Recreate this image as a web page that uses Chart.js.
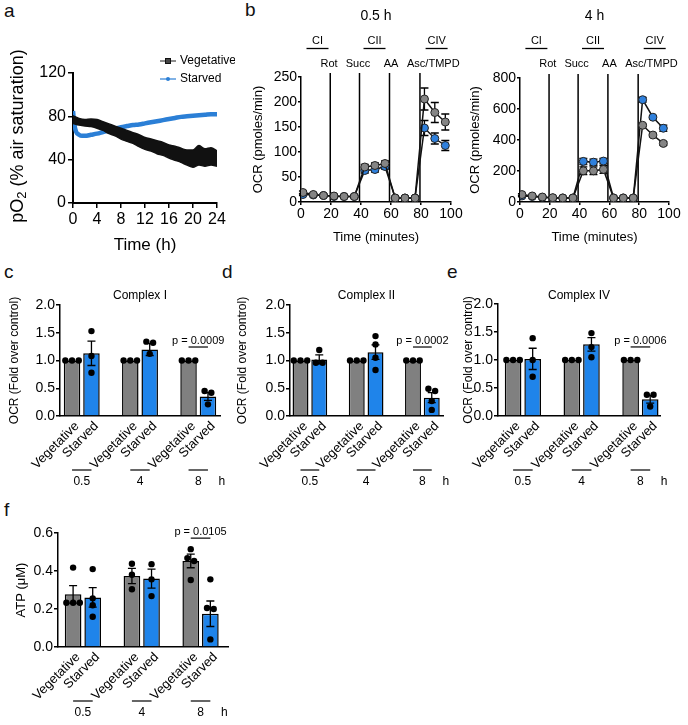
<!DOCTYPE html>
<html>
<head>
<meta charset="utf-8">
<script src="https://cdn.jsdelivr.net/npm/chart.js"></script>
<style>
  body { margin: 0; background: #fff; width: 688px; height: 725px; position: relative; overflow: hidden;
         font-family: 'Liberation Sans', Arial, sans-serif; }
  canvas { position: absolute; }
  .tag { position: absolute; font-size: 19px; line-height: 19px; color: #111; }
</style>
</head>
<body>
<div class="tag" style="left:4px;top:1px">a</div>
<div class="tag" style="left:245px;top:0px">b</div>
<div class="tag" style="left:4px;top:262px">c</div>
<div class="tag" style="left:222px;top:262px">d</div>
<div class="tag" style="left:447px;top:262px">e</div>
<div class="tag" style="left:4px;top:500px">f</div>

<canvas id="pa" width="235" height="230" style="left:0;top:30px"></canvas>
<canvas id="pb1" width="225" height="260" style="left:240px;top:0"></canvas>
<canvas id="pb2" width="228" height="260" style="left:460px;top:0"></canvas>
<canvas id="pc" width="232" height="215" style="left:0;top:280px"></canvas>
<canvas id="pd" width="225" height="215" style="left:230px;top:280px"></canvas>
<canvas id="pe" width="236" height="215" style="left:452px;top:280px"></canvas>
<canvas id="pf" width="240" height="220" style="left:0;top:505px"></canvas>

<script>
// ---------- data ----------
// a: dissolved oxygen over time
const hours = [0,1,2,3,4,5,6,7,8,9,10,11,12,13,14,15,16,17,18,19,20,21,22,23,24];
const vegMean = [77,75,74,74,73,71,68.5,66.5,64,62,60,57.5,55,53.5,51.5,50,47.5,46,44,42,41,44,42,43,41];
const vegErr = [3.5,3,3,3.5,4,4,4.5,4.5,5,5,5,5.5,5.5,5.5,6,6,6,6.5,6.5,7,8,9,8,8,7];
const starvedHours = [0,0.25,0.5,1,1.5,2,3,4,5,6,7,8,9,10,11,12,13,14,15,16,17,18,19,20,21,22,23,24];
const starvedMean = [85,72,66,63,62,62,63,64,65.5,67,68.5,70,71,72,72.5,73.5,74.5,75.5,76.5,77.5,78.5,79.5,80,80.5,81,81.5,82,82];

// b: seahorse OCR traces
const seahorseMin = [1.3,8.2,15,22,28.7,35.5,42.5,49.3,56,62.8,69.3,76,82.3,89.2,96.2];
const injectionMin = [19.5,39,59,79.3];
const injectionNames = ['Rot','Succ','AA','Asc/TMPD'];
const complexNames = ['CI','CII','CIV'];
const ocrVeg05 = [19,15,13,12,11,11,70,73,77,8,8,8,206,179,160];
const ocrVeg05Err = [3,2,2,2,2,2,5,5,5,1,1,1,22,20,16];
const ocrStarved05 = [15,14,13,11,11,11,63,65,71,8,8,8,148,127,113];
const ocrStarved05Err = [2,2,2,2,2,2,5,5,5,1,1,1,15,11,10];
const ocrVeg4 = [48,39,32,28,26,26,201,201,210,26,26,26,495,432,378];
const ocrVeg4Err = [6,5,4,3,3,3,25,25,25,3,3,3,8,10,12];
const ocrStarved4 = [39,35,30,26,26,26,262,257,264,26,26,26,660,547,476];
const ocrStarved4Err = [5,4,4,3,3,3,20,20,18,3,3,3,15,10,20];

// c-f: bar panels
const timeGroups = ['0.5','4','8'];
const conditions = ['Vegetative','Starved'];

const cIVeg = [1,1,1];
const cIVegErr = [0,0,0];
const cIVegPts = [[1,1,1],[1,1,1],[1,1,1]];
const cIStarved = [1.13,1.20,0.35];
const cIStarvedErr = [0.22,0.11,0.07];
const cIStarvedPts = [[1.53,1.08,0.78],[1.34,1.32,1.12],[0.45,0.42,0.21]];

const cIIVeg = [1,1,1];
const cIIVegErr = [0,0,0];
const cIIVegPts = [[1,1,1],[1,1,1],[1,1,1]];
const cIIStarved = [1.02,1.15,0.33];
const cIIStarvedErr = [0.08,0.13,0.09];
const cIIStarvedPts = [[1.19,0.96,0.96],[1.44,1.29,1.05,0.83],[0.49,0.45,0.27,0.11]];

const cIVVeg = [1,1,1];
const cIVVegErr = [0,0,0];
const cIVVegPts = [[1,1,1],[1,1,1],[1,1,1]];
const cIVStarved = [1.02,1.28,0.30];
const cIVStarvedErr = [0.19,0.12,0.07];
const cIVStarvedPts = [[1.39,1.0,0.70],[1.48,1.23,1.05],[0.38,0.38,0.17]];

const atpVeg = [0.277,0.374,0.453];
const atpVegErr = [0.046,0.04,0.036];
const atpVegPts = [[0.418,0.233,0.233,0.233],[0.438,0.38,0.304],[0.515,0.468,0.453,0.353]];
const atpStarved = [0.261,0.36,0.175];
const atpStarvedErr = [0.051,0.05,0.067];
const atpStarvedPts = [[0.41,0.256,0.22,0.159],[0.436,0.356,0.268],[0.356,0.205,0.2,0.04]];

// ---------- style ----------
const FONT = "'Liberation Sans', Arial, Helvetica, sans-serif";
const BLUE = '#1f84ea';
const BLUE_LINE = '#2b7fd6';
const GRAY = '#808080';
Chart.defaults.font.family = FONT;
Chart.defaults.color = '#000';
Chart.defaults.animation = false;

function axisLook(size, tickLen, pad) {
    return {
        border: { display: true, color: '#000', width: 1.5 },
        grid: { display: true, drawOnChartArea: false, drawTicks: true, tickLength: tickLen, color: '#000', lineWidth: 1.5 },
        ticks: { color: '#000', font: { size: size }, padding: pad }
    };
}

function text(ctx, str, x, y, size, align) {
    ctx.font = size + 'px ' + FONT;
    ctx.fillStyle = '#000';
    ctx.textAlign = align || 'center';
    ctx.textBaseline = 'middle';
    ctx.fillText(str, x, y);
}

function hline(ctx, x1, x2, y, w) {
    ctx.beginPath();
    ctx.lineWidth = w || 1.2;
    ctx.strokeStyle = '#000';
    ctx.moveTo(x1, y);
    ctx.lineTo(x2, y);
    ctx.stroke();
}

function errorBar(ctx, x, yTop, yBot, cap) {
    ctx.beginPath();
    ctx.strokeStyle = '#000';
    ctx.lineWidth = 1.3;
    ctx.moveTo(x, yTop); ctx.lineTo(x, yBot);
    ctx.moveTo(x - cap, yTop); ctx.lineTo(x + cap, yTop);
    ctx.moveTo(x - cap, yBot); ctx.lineTo(x + cap, yBot);
    ctx.stroke();
}

// replicate dots; dots at nearly the same height are spread sideways
function drawDots(ctx, x, ys, r) {
    const pts = ys.slice().sort((a, b) => a - b);
    ctx.fillStyle = '#000';
    let i = 0;
    while (i < pts.length) {
        let j = i;
        while (j + 1 < pts.length && pts[j + 1] - pts[i] < r * 1.6) j++;
        const n = j - i + 1;
        for (let k = 0; k < n; k++) {
            const dx = (k - (n - 1) / 2) * r * 2.1;
            ctx.beginPath();
            ctx.arc(x + dx, pts[i + k], r, 0, Math.PI * 2);
            ctx.fill();
        }
        i = j + 1;
    }
}

// ---------- panel a ----------
(function () {
    const cv = document.getElementById('pa');
    const W = cv.width, H = cv.height;
    const A = { left: 73, top: 43, right: 217, bottom: 173 };
    const look = axisLook(16, 5, 2);
    look.border.width = 2;

    const extras = {
        id: 'aExtras',
        afterDraw(chart) {
            const ctx = chart.ctx;
            ctx.save();
            // y title with subscript
            const parts = [['pO', 18, 0], ['2', 13, 4], [' (% air saturation)', 18, 0]];
            let total = 0;
            parts.forEach(p => { ctx.font = p[1] + 'px ' + FONT; total += ctx.measureText(p[0]).width; });
            ctx.translate(18, (A.top + A.bottom) / 2 - 2);
            ctx.rotate(-Math.PI / 2);
            let x = -total / 2;
            parts.forEach(p => {
                ctx.font = p[1] + 'px ' + FONT;
                ctx.fillStyle = '#000';
                ctx.textAlign = 'left';
                ctx.textBaseline = 'middle';
                ctx.fillText(p[0], x, p[2]);
                x += ctx.measureText(p[0]).width;
            });
            ctx.restore();

            // legend
            ctx.save();
            const items = [
                { name: conditions[0], color: '#444', y: 31, square: true },
                { name: conditions[1], color: BLUE_LINE, y: 49, square: false }
            ];
            items.forEach(it => {
                ctx.strokeStyle = it.color;
                ctx.lineWidth = 1.2;
                ctx.beginPath(); ctx.moveTo(160, it.y); ctx.lineTo(176, it.y); ctx.stroke();
                ctx.fillStyle = it.color;
                if (it.square) {
                    ctx.fillRect(165.5, it.y - 2.5, 5, 5);
                    ctx.strokeStyle = '#111'; ctx.lineWidth = 1;
                    ctx.strokeRect(165.5, it.y - 2.5, 5, 5);
                } else {
                    ctx.beginPath(); ctx.arc(168, it.y, 2, 0, Math.PI * 2); ctx.fill();
                }
                text(ctx, it.name, 180, it.y, 12, 'left');
            });
            ctx.restore();
        }
    };

    new Chart(cv, {
        type: 'line',
        data: {
            datasets: [
                { label: conditions[0], data: hours.map((h, i) => ({ x: h, y: vegMean[i] + vegErr[i] })),
                  borderColor: '#111', borderWidth: 1.5, pointRadius: 0, fill: false, cubicInterpolationMode: 'monotone' },
                { label: conditions[0], data: hours.map((h, i) => ({ x: h, y: vegMean[i] - vegErr[i] })),
                  borderColor: '#111', borderWidth: 1.5, pointRadius: 0, fill: '-1', backgroundColor: '#111', cubicInterpolationMode: 'monotone' },
                { label: conditions[1], data: starvedHours.map((h, i) => ({ x: h, y: starvedMean[i] })),
                  borderColor: BLUE_LINE, borderWidth: 4.5, pointRadius: 0, fill: false, cubicInterpolationMode: 'monotone' }
            ]
        },
        options: {
            responsive: false,
            animation: false,
            layout: { padding: { top: A.top, right: W - A.right, left: 0, bottom: 0 } },
            plugins: { legend: { display: false }, tooltip: { enabled: false } },
            scales: {
                x: {
                    type: 'linear', min: 0, max: 24, ...look,
                    ticks: { ...look.ticks, stepSize: 4 },
                    title: { display: true, text: 'Time (h)', font: { size: 17 }, color: '#000', padding: { top: 0, bottom: 4.8 } },
                    afterFit: s => { s.height = H - A.bottom; }
                },
                y: {
                    min: 0, max: 120, ...look,
                    ticks: { ...look.ticks, stepSize: 40 },
                    afterFit: s => { s.width = A.left; }
                }
            }
        },
        plugins: [extras]
    });
})();

// ---------- panel b ----------
function ocrPanel(id, cfg) {
    const cv = document.getElementById(id);
    const W = cv.width, H = cv.height;
    const A = cfg.area;
    const look = axisLook(14, 3, 1);
    const errs = [cfg.vegErr, cfg.starvedErr];
    const labelMin = [18.7, 38, 60, 88.2];
    const complexMin = [11, 49, 90.4];

    const extras = {
        id: 'ocrExtras',
        beforeDatasetsDraw(chart) {
            const { ctx, scales: { x, y }, chartArea: a } = chart;
            ctx.save();
            ctx.strokeStyle = '#000';
            ctx.lineWidth = 1.5;
            injectionMin.forEach(t => {
                const px = x.getPixelForValue(t);
                ctx.beginPath(); ctx.moveTo(px, a.top - 4); ctx.lineTo(px, a.bottom); ctx.stroke();
            });
            chart.data.datasets.forEach((ds, d) => {
                ds.data.forEach((p, i) => {
                    const e = errs[d][i];
                    errorBar(ctx, x.getPixelForValue(p.x), y.getPixelForValue(p.y + e), y.getPixelForValue(p.y - e), 4);
                });
            });
            ctx.restore();
        },
        afterDraw(chart) {
            const { ctx, scales: { x }, chartArea: a } = chart;
            ctx.save();
            text(ctx, cfg.title, (a.left + a.right) / 2, 16, 14);
            complexNames.forEach((n, i) => {
                const cx = x.getPixelForValue(complexMin[i]);
                text(ctx, n, cx, 41, 11);
                hline(ctx, cx - 11, cx + 11, 48.5, 1.3);
            });
            injectionNames.forEach((n, i) => {
                text(ctx, n, x.getPixelForValue(labelMin[i]), 63.5, 11);
            });
            ctx.restore();
        }
    };

    const series = (vals, fill) => ({
        data: seahorseMin.map((t, i) => ({ x: t, y: vals[i] })),
        borderColor: '#111', borderWidth: 1.5,
        pointRadius: 4, pointBackgroundColor: fill, pointBorderColor: '#222', pointBorderWidth: 1
    });

    new Chart(cv, {
        type: 'line',
        data: {
            datasets: [
                { label: conditions[0], ...series(cfg.veg, '#858585') },
                { label: conditions[1], ...series(cfg.starved, '#2f80dc') }
            ]
        },
        options: {
            responsive: false,
            animation: false,
            layout: { padding: { top: A.top, right: W - A.right, left: 0, bottom: 0 } },
            plugins: { legend: { display: false }, tooltip: { enabled: false } },
            scales: {
                x: {
                    type: 'linear', min: 0, max: 100, ...look,
                    ticks: { ...look.ticks, stepSize: 20 },
                    title: { display: true, text: 'Time (minutes)', font: { size: 13 }, color: '#000', padding: { top: 0, bottom: 15.2 } },
                    afterFit: s => { s.height = H - A.bottom; }
                },
                y: {
                    min: 0, max: cfg.yMax, ...look,
                    ticks: { ...look.ticks, stepSize: cfg.yStep },
                    title: { display: true, text: 'OCR (pmoles/min)', font: { size: 13 }, color: '#000', padding: { top: cfg.yTitleX - 7.8, bottom: 0 } },
                    afterFit: s => { s.width = A.left; }
                }
            }
        },
        plugins: [extras]
    });
}

ocrPanel('pb1', { title: '0.5 h', veg: ocrVeg05, vegErr: ocrVeg05Err, starved: ocrStarved05, starvedErr: ocrStarved05Err,
    yMax: 250, yStep: 50, yTitleX: 18, area: { left: 61, top: 77, right: 211, bottom: 202 } });
ocrPanel('pb2', { title: '4 h', veg: ocrVeg4, vegErr: ocrVeg4Err, starved: ocrStarved4, starvedErr: ocrStarved4Err,
    yMax: 800, yStep: 200, yTitleX: 15, area: { left: 60, top: 78, right: 209, bottom: 202 } });

// ---------- panels c-f ----------
function barPanel(id, cfg) {
    const cv = document.getElementById(id);
    const W = cv.width, H = cv.height;
    const A = cfg.area;
    const pos = [], means = [], errs = [], pts = [], colors = [], names = [];
    timeGroups.forEach((t, g) => {
        pos.push(3 * g, 3 * g + 1);
        means.push(cfg.veg[g], cfg.starved[g]);
        errs.push(cfg.vegErr[g], cfg.starvedErr[g]);
        pts.push(cfg.vegPts[g], cfg.starvedPts[g]);
        colors.push(GRAY, BLUE);
        names.push(conditions[0], conditions[1]);
    });
    const look = axisLook(cfg.tickSize, 4, 1);

    const extras = {
        id: 'barExtras',
        afterDatasetsDraw(chart) {
            const { ctx, scales: { x, y } } = chart;
            ctx.save();
            pos.forEach((p, i) => {
                const px = x.getPixelForValue(p);
                if (errs[i] > 0) {
                    errorBar(ctx, px, y.getPixelForValue(means[i] + errs[i]), y.getPixelForValue(means[i] - errs[i]), 4);
                }
                drawDots(ctx, px, pts[i].map(v => y.getPixelForValue(v)), 3.2);
            });
            ctx.restore();
        },
        afterDraw(chart) {
            const { ctx, scales: { x, y }, chartArea: a } = chart;
            ctx.save();
            // 45 degree category labels, ending just right of each bar centre
            x.ticks.forEach((t, i) => {
                ctx.save();
                ctx.translate(x.getPixelForValue(t.value) + 5, a.bottom + 8);
                ctx.rotate(-Math.PI / 4);
                text(ctx, names[i], 0, 0, 13, 'right');
                ctx.restore();
            });
            if (cfg.title) text(ctx, cfg.title, (a.left + a.right) / 2, 15.5, 12);
            timeGroups.forEach((t, g) => {
                const xa = x.getPixelForValue(3 * g), xb = x.getPixelForValue(3 * g + 1);
                hline(ctx, xa, xb, a.bottom + 54, 1.2);
                text(ctx, t, (xa + xb) / 2, a.bottom + 66, 12);
            });
            text(ctx, 'h', x.getPixelForValue(7) + 14, a.bottom + 66, 12);
            const xa = x.getPixelForValue(6), xb = x.getPixelForValue(7);
            const py = y.getPixelForValue(cfg.pY);
            hline(ctx, xa, xb, py, 1.2);
            text(ctx, cfg.pText, (xa + xb) / 2, py - 6, 11);
            ctx.restore();
        }
    };

    new Chart(cv, {
        type: 'bar',
        data: {
            datasets: [{
                label: cfg.yTitle,
                data: pos.map((p, i) => ({ x: p, y: means[i] })),
                backgroundColor: colors,
                borderColor: '#000',
                borderWidth: 1.5,
                categoryPercentage: 1,
                barPercentage: 0.85
            }]
        },
        options: {
            responsive: false,
            animation: false,
            layout: { padding: { top: A.top, right: W - A.right, left: 0, bottom: 0 } },
            plugins: { legend: { display: false }, tooltip: { enabled: false } },
            scales: {
                x: {
                    type: 'linear', min: cfg.xMin, max: cfg.xMax, offset: false,
                    border: { display: true, color: '#000', width: 1.5 },
                    grid: { display: false },
                    ticks: { display: false },
                    afterBuildTicks: s => { s.ticks = pos.map(v => ({ value: v })); },
                    afterFit: s => { s.height = H - A.bottom; }
                },
                y: {
                    min: 0, max: cfg.yMax, ...look,
                    ticks: { ...look.ticks, stepSize: cfg.yStep, callback: v => v.toFixed(1) },
                    title: { display: true, text: cfg.yTitle, font: { size: cfg.yTitleSize }, color: '#000',
                             padding: { top: cfg.yTitleX - cfg.yTitleSize * 0.6, bottom: 0 } },
                    afterFit: s => { s.width = A.left; }
                }
            }
        },
        plugins: [extras]
    });
}

barPanel('pc', { title: 'Complex I', yTitle: 'OCR (Fold over control)', yTitleSize: 12, yTitleX: 15, tickSize: 14,
    veg: cIVeg, vegErr: cIVegErr, vegPts: cIVegPts, starved: cIStarved, starvedErr: cIStarvedErr, starvedPts: cIStarvedPts,
    yMax: 2, yStep: 0.5, pText: 'p = 0.0009', pY: 1.243, xMin: -0.62, xMax: 7.62,
    area: { left: 60, top: 25, right: 220, bottom: 136 } });
barPanel('pd', { title: 'Complex II', yTitle: 'OCR (Fold over control)', yTitleSize: 12, yTitleX: 13, tickSize: 14,
    veg: cIIVeg, vegErr: cIIVegErr, vegPts: cIIVegPts, starved: cIIStarved, starvedErr: cIIStarvedErr, starvedPts: cIIStarvedPts,
    yMax: 2, yStep: 0.5, pText: 'p = 0.0002', pY: 1.243, xMin: -0.56, xMax: 7.6,
    area: { left: 60, top: 25, right: 213, bottom: 136 } });
barPanel('pe', { title: 'Complex IV', yTitle: 'OCR (Fold over control)', yTitleSize: 12, yTitleX: 17, tickSize: 14,
    veg: cIVVeg, vegErr: cIVVegErr, vegPts: cIVVegPts, starved: cIVStarved, starvedErr: cIVStarvedErr, starvedPts: cIVStarvedPts,
    yMax: 2, yStep: 0.5, pText: 'p = 0.0006', pY: 1.233, xMin: -0.77, xMax: 7.5,
    area: { left: 46, top: 24, right: 208, bottom: 136 } });
barPanel('pf', { title: '', yTitle: 'ATP (\u03bcM)', yTitleSize: 13, yTitleX: 21.7, tickSize: 14,
    veg: atpVeg, vegErr: atpVegErr, vegPts: atpVegPts, starved: atpStarved, starvedErr: atpStarvedErr, starvedPts: atpStarvedPts,
    yMax: 0.6, yStep: 0.2, pText: 'p = 0.0105', pY: 0.573, xMin: -0.77, xMax: 7.9,
    area: { left: 58, top: 28, right: 228, bottom: 142 } });
</script>
</body>
</html>
